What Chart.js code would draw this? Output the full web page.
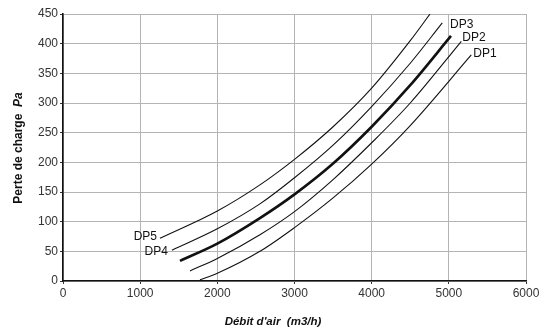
<!DOCTYPE html>
<html>
<head>
<meta charset="utf-8">
<script src="https://cdn.jsdelivr.net/npm/chart.js@4/dist/chart.umd.min.js"></script>
<style>
  html, body { margin: 0; padding: 0; background: #fff; }
  #wrap { width: 549px; height: 329px; }
</style>
</head>
<body>
<div id="wrap"><canvas id="chart"></canvas></div>
<script>
// débit d'air (m3/h) et perte de charge (Pa)
const dp5Flow = [1257, 2000, 2552, 3000, 3500, 4000, 4500, 4756];
const dp5Loss = [72, 118, 162, 205, 260, 325, 405, 450];
const dp4Flow = [1412, 2000, 2552, 3000, 3500, 4000, 4500, 4915];
const dp4Loss = [52, 88, 130, 174, 229, 294, 367, 435];
const dp3Flow = [1516, 2000, 2552, 3000, 3500, 4000, 4500, 5028];
const dp3Loss = [34, 63, 106, 146, 198, 260, 330, 413];
const dp2Flow = [1646, 2000, 2552, 3000, 3500, 4000, 4500, 5162];
const dp2Loss = [17, 38, 78, 117, 171, 233, 300, 404];
const dp1Flow = [1775, 2000, 2552, 3000, 3500, 4000, 4500, 5291];
const dp1Loss = [2, 13, 50, 90, 140, 197, 262, 381];

const seriesNames = ["DP5", "DP4", "DP3", "DP2", "DP1"];
const xTicks = [0, 1000, 2000, 3000, 4000, 5000, 6000];
const yTicks = [0, 50, 100, 150, 200, 250, 300, 350, 400, 450];

const xTitle = "Débit d'air  (m3/h)";
const yTitle = "Perte de charge  ";
const yUnit = "Pa";

const FONT = "'Liberation Sans', Arial, Helvetica, sans-serif";

const pairs = (xs, ys) => xs.map((x, i) => ({ x, y: ys[i] }));
const flows = [dp5Flow, dp4Flow, dp3Flow, dp2Flow, dp1Flow];
const losses = [dp5Loss, dp4Loss, dp3Loss, dp2Loss, dp1Loss];

// where each name sits: start = left of first point, end = right of last point
const labelSide = ["start", "start", "end", "end", "end"];
const labelShift = [[-3, -2], [-4, 2], [-1, -11], [1, -4], [2, -1]];

const curveLabels = {
  id: "curveLabels",
  afterDatasetsDraw(chart) {
    const { ctx, scales } = chart;
    ctx.save();
    ctx.font = "12px " + FONT;
    ctx.fillStyle = "#111";
    ctx.textBaseline = "middle";
    chart.data.datasets.forEach((ds, i) => {
      const pt = labelSide[i] === "start" ? ds.data[0] : ds.data[ds.data.length - 1];
      const px = scales.x.getPixelForValue(pt.x) + labelShift[i][0];
      const py = scales.y.getPixelForValue(pt.y) + labelShift[i][1];
      ctx.textAlign = labelSide[i] === "start" ? "right" : "left";
      ctx.fillText(ds.label, px, py);
    });
    ctx.restore();
  },
};

const axisTitles = {
  id: "axisTitles",
  afterDraw(chart) {
    const { ctx } = chart;
    ctx.save();
    ctx.fillStyle = "#111";
    ctx.textBaseline = "middle";
    ctx.font = "italic bold 11.5px " + FONT;
    ctx.textAlign = "center";
    ctx.fillText(xTitle, 273, 322);

    ctx.translate(19, 148);
    ctx.rotate(-Math.PI / 2);
    ctx.font = "bold 12px " + FONT;
    const w1 = ctx.measureText(yTitle).width;
    ctx.font = "italic bold 12px " + FONT;
    const w2 = ctx.measureText(yUnit).width;
    ctx.textAlign = "left";
    ctx.font = "bold 12px " + FONT;
    ctx.fillText(yTitle, -(w1 + w2) / 2, 0);
    ctx.font = "italic bold 12px " + FONT;
    ctx.fillText(yUnit, -(w1 + w2) / 2 + w1, 0);
    ctx.restore();
  },
};

new Chart(document.getElementById("chart"), {
  type: "line",
  data: {
    datasets: seriesNames.map((label, i) => ({
      label,
      data: pairs(flows[i], losses[i]),
      borderColor: "#111",
      borderWidth: label === "DP3" ? 2.6 : 1.1,
      pointRadius: 0,
      fill: false,
      cubicInterpolationMode: "monotone",
    })),
  },
  options: {
    responsive: true,
    maintainAspectRatio: false,
    animation: false,
    layout: { padding: { top: 14, right: 23, left: 0, bottom: 0 } },
    plugins: {
      legend: { display: false },
      tooltip: { enabled: false },
    },
    scales: {
      x: {
        type: "linear",
        min: 0,
        max: 6000,
        afterBuildTicks: (s) => { s.ticks = xTicks.map((v) => ({ value: v })); },
        afterFit: (s) => { s.height = 48; },
        grid: { color: "#b4b4b4", lineWidth: 1, tickLength: 3, tickColor: "#333" },
        border: { color: "#111", width: 1.6 },
        ticks: {
          color: "#333",
          font: { family: FONT, size: 12 },
          padding: 2,
          maxRotation: 0,
          callback: (v) => String(v),
        },
      },
      y: {
        type: "linear",
        min: 0,
        max: 450,
        afterBuildTicks: (s) => { s.ticks = yTicks.map((v) => ({ value: v })); },
        afterFit: (s) => { s.width = 63; },
        grid: { color: "#b4b4b4", lineWidth: 1, tickLength: 3, tickColor: "#333" },
        border: { color: "#111", width: 1.6 },
        ticks: {
          color: "#333",
          font: { family: FONT, size: 12 },
          padding: 2,
          callback: (v) => String(v),
        },
      },
    },
  },
  plugins: [curveLabels, axisTitles],
});
</script>
</body>
</html>
